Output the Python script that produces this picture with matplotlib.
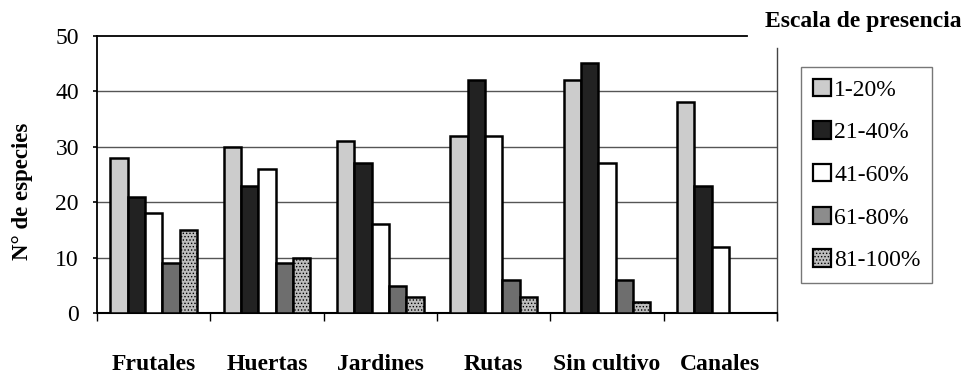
import numpy as np
import matplotlib
matplotlib.use("Agg")
import matplotlib.pyplot as plt
from matplotlib.patches import Patch

plt.rcParams["font.family"] = ["Liberation Serif", "DejaVu Serif"]
plt.rcParams["hatch.color"] = "#7a7a7a"
plt.rcParams["hatch.linewidth"] = 0.6

# -------------------- data --------------------
categorias = ["Frutales", "Huertas", "Jardines", "Rutas", "Sin cultivo", "Canales"]
escalas = ["1-20%", "21-40%", "41-60%", "61-80%", "81-100%"]

p1_20 = [28, 30, 31, 32, 42, 38]
p21_40 = [21, 23, 27, 42, 45, 23]
p41_60 = [18, 26, 16, 32, 27, 12]
p61_80 = [9, 9, 5, 6, 6, 0]
p81_100 = [15, 10, 3, 3, 2, 0]

series = [p1_20, p21_40, p41_60, p61_80, p81_100]
colores = ["#cccccc", "#222222", "#ffffff", "#6e6e6e", "#bdbdbd"]
hatches = [None, None, None, None, "....."]
legend_colores = ["#cccccc", "#222222", "#ffffff", "#8c8c8c", "#bdbdbd"]

fig = plt.figure(figsize=(9.62, 3.73), dpi=100)
ax = fig.add_axes([97 / 962, 1 - 313.3 / 373, 680 / 962, 277.6 / 373])

x = np.arange(len(categorias))
w = 0.153
for i, (vals, c, h) in enumerate(zip(series, colores, hatches)):
    ax.bar(x + (i - 2) * w, vals, width=w, color=c, edgecolor="black",
           linewidth=1.8, hatch=h, zorder=3)

ax.set_xlim(-0.5, len(categorias) - 0.5)
ax.set_ylim(0, 50)
ax.set_yticks([0, 10, 20, 30, 40, 50])
ax.tick_params(axis="y", labelsize=17, length=3, width=1.2, pad=10)

# lineas de rejilla
for v in [10, 20, 30, 40]:
    ax.axhline(v, color="#555555", lw=1.0, zorder=1)
ax.axhline(50, xmin=0, xmax=650 / 680, color="black", lw=1.3, zorder=1, clip_on=False)
ax.axvline(len(categorias) - 0.5, ymin=-0.025, ymax=0.955, color="#444444",
           lw=1.0, clip_on=False, zorder=1)

for s in ["top", "right"]:
    ax.spines[s].set_visible(False)
ax.spines["left"].set_linewidth(1.3)
ax.spines["bottom"].set_linewidth(1.5)

ax.set_xticks(x)
ax.set_xticklabels(categorias, fontsize=17, fontweight="bold")
ax.tick_params(axis="x", length=0, pad=29)
ax.set_xticks(np.arange(-0.5, len(categorias)), minor=True)
ax.tick_params(axis="x", which="minor", length=6, width=1.0, direction="out")

ax.set_ylabel("N° de especies", fontsize=16.5, fontweight="bold", labelpad=16, y=0.44)

fig.text(765 / 962, 1 - 22 / 373, "Escala de presencia", fontsize=17,
         fontweight="bold", ha="left", va="center")

handles = [Patch(facecolor=c, edgecolor="black", linewidth=1.6, hatch=h)
           for c, h in zip(legend_colores, hatches)]
leg = fig.legend(handles, escalas, loc="upper left",
                 bbox_to_anchor=(801 / 962, 1 - 67 / 373), fontsize=17,
                 frameon=True, fancybox=False, edgecolor="#555555",
                 labelspacing=0.88, handlelength=0.75, handleheight=0.75,
                 handletextpad=0.15, borderpad=0.5, borderaxespad=0)
leg.get_frame().set_linewidth(1.0)

fig.savefig("out.png", dpi=100)
